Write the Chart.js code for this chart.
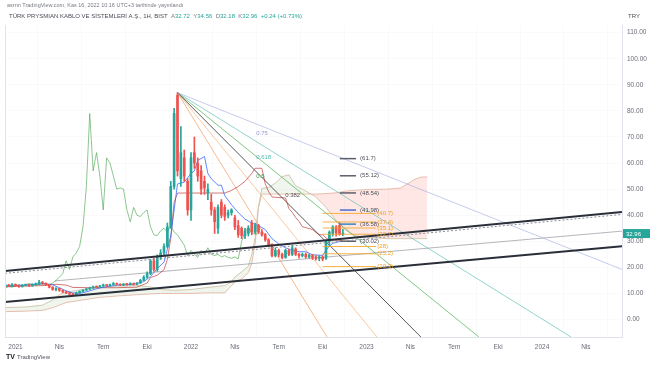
<!DOCTYPE html>
<html>
<head>
<meta charset="utf-8">
<script src="https://cdn.jsdelivr.net/npm/chart.js@4.4.0/dist/chart.umd.min.js"></script>
<style>
  html, body { margin: 0; padding: 0; background: #fff; }
  canvas { display: block; }
</style>
</head>
<body>
<canvas id="chart" width="654" height="366"></canvas>
<script>
// weekly candles, week 0 = first week of Jan 2021
const firstWeek = -3;
const opens  = [12.8,13.2,12.9,13.4,13.0,12.6,13.1,13.3,12.9,13.4,13.6,14.3,13.9,13.3,12.4,11.5,11.9,11.2,10.6,10.2,9.7,9.5,10.3,10.8,11.3,11.7,12.1,12.6,12.4,12.9,13.3,13.0,13.4,13.8,13.5,13.2,13.6,13.4,13.8,13.5,14.0,15.0,16.2,17.6,22.5,19.2,24.0,25.5,28.0,35.5,51.0,86.0,54.0,62.0,53.0,42.0,64.0,60.0,57.0,53.0,48.5,45.0,42.0,35.0,45.0,43.0,40.0,41.0,39.0,36.0,35.0,32.2,33.0,37.0,33.5,36.0,33.5,32.5,30.5,28.5,24.5,26.5,25.0,23.8,26.5,25.0,27.0,25.0,24.5,25.0,24.0,24.5,24.0,23.5,24.0,23.5,30.0,33.0,35.5,36.0,32.72];
const highs  = [13.6,13.5,13.8,13.7,13.2,13.4,13.6,13.5,13.7,14.0,15.0,14.6,14.1,13.5,12.6,12.2,12.0,11.4,10.9,10.4,9.9,10.5,11.0,11.5,11.9,12.4,12.8,12.9,13.1,13.6,13.5,13.6,14.2,14.0,13.7,13.8,13.9,14.1,14.0,14.2,15.4,16.8,18.3,23.0,23.5,24.8,26.8,29.0,37.0,53.0,81.0,87.0,74.0,65.0,54.0,64.0,70.0,62.0,59.0,55.0,52.0,48.0,43.0,44.0,46.0,44.0,42.0,42.5,40.0,38.0,35.5,35.0,36.0,38.0,37.0,36.5,34.5,33.0,31.0,29.0,27.5,27.0,25.5,27.0,27.0,28.5,27.5,25.5,25.5,25.5,25.0,25.0,24.5,24.5,24.5,30.5,34.0,36.0,36.0,37.2,34.56];
const lows   = [12.5,12.6,12.7,12.7,12.3,12.4,12.9,12.6,12.7,13.1,13.4,13.5,13.0,12.1,11.2,11.0,10.8,10.3,9.9,9.4,9.2,9.3,10.1,10.6,11.1,11.5,11.9,12.1,12.2,12.7,12.8,12.8,13.2,13.2,13.0,13.0,13.1,13.2,13.2,13.3,13.8,14.8,15.9,17.2,18.5,18.5,23.0,24.8,27.5,35.0,50.0,55.0,51.0,53.0,40.0,38.0,58.0,53.0,48.0,48.0,46.0,40.0,33.0,33.0,39.0,38.0,39.0,40.0,34.5,31.5,31.0,31.0,32.0,32.5,33.0,33.0,32.0,30.0,28.0,24.0,24.0,24.0,23.2,23.5,24.5,24.5,24.5,23.5,24.0,23.5,23.5,23.0,22.8,22.5,22.5,23.0,28.0,32.0,32.0,32.3,32.18];
const closes = [13.2,12.9,13.4,13.0,12.6,13.1,13.3,12.9,13.4,13.6,14.3,13.9,13.3,12.4,11.5,11.9,11.2,10.6,10.2,9.7,9.5,10.3,10.8,11.3,11.7,12.1,12.6,12.4,12.9,13.3,13.0,13.4,13.8,13.5,13.2,13.6,13.4,13.8,13.5,14.0,15.0,16.2,17.6,22.5,19.2,24.0,25.5,28.0,35.5,51.0,79.0,57.0,64.0,55.0,42.0,62.0,60.0,55.0,50.0,50.5,50.0,42.0,37.5,43.0,40.0,39.5,41.0,42.0,35.5,32.5,32.2,34.0,35.0,33.5,36.0,33.5,32.5,30.5,28.5,24.5,26.5,25.0,23.8,26.5,25.0,27.5,25.0,24.5,25.0,24.0,24.5,23.8,23.5,24.0,23.2,30.0,33.5,35.5,33.2,32.7,32.96];

// ichimoku lines: [week, value]
const tenkan = [[-3.1,13],[3,13.2],[8,13.8],[11,13.3],[13,12.2],[15,11],[17,10.2],[19,10],[21,10.6],[24,11.8],[27,12.6],[31,13.3],[35,13.5],[38,14.5],[40,16.5],[42,19.5],[44,22],[45,27],[46,32],[47,42],[48,52],[50,52.7],[52,56],[53,57],[54,61],[56,62.5],[57,56],[58,54],[60,51.5],[61,51.5],[62,47.5],[64,44],[66,41],[68,38.5],[70,37],[72,36],[74,34.5],[76,31],[78,29],[80,27.5],[82,26.5],[84,26],[86,26],[88,24.8],[91,24.6],[92,26.5],[93,28.2],[94,29.2],[96,29.9],[97,29.9]];
const kijun = [[-3.1,12.6],[8,13],[12,13.5],[15,13.2],[17,12.3],[22,12.2],[30,12.2],[36,12.4],[39,14],[40,16.1],[42,17],[44,19.1],[45,23.1],[46,31.1],[47,45],[48,48.5],[62,48.5],[64,49.5],[66,51],[68,53],[70,56],[71,58],[73,58],[74,52],[75,49],[76,47],[80,46.6],[81,42.6],[82,41.1],[83,39.1],[84,37.6],[85,35.6],[88,34.5],[89,33.4],[90,32.5],[91,32.5],[92,31.3],[93,30.5],[97,30.3]];
const cloudWeeks = [-3.1,3,8,11,13,15,20,25,30,36,40,43,47,52,57,62,64,65,67,69,70,71,72,73,75,77,79,81,83,85,87,89,92,95,98,101,105,110,114,117,118,120,122];
const spanA = [4.6,4.8,5.5,7.5,9.5,10.5,11.5,12.5,12.8,13,12.5,11.5,11.2,11.5,12.3,13,14.5,16.3,18.3,20.5,25,31.5,43.5,50.3,50.6,52.3,54.8,55.5,51.3,50,48.5,47,43,38,34,32,31.5,31,31,31,31,31,31];
const spanB = [3.0,3.2,3.5,4.5,5.5,6.5,7.5,8.5,9,9.5,9.8,10,10,10,10.2,10.2,13,14.5,15.5,18,21.5,29,43,48.1,48.1,48.1,48.1,48.1,48.1,48.1,48.1,48.1,48.3,48.6,49.3,49.6,49.9,50,50.4,52.7,53.6,54.6,54.7];

// drawings: fan from the 2021 top, trend channel, levels
const fanStart = [48, 87];
const fanEnds = [[179.7,19.2],[164.6,-6.7],[137.3,-6.7],[120.1,-6.7],[107.1,-6.7],[92.3,-6.7]];
const fanLabels = ['0.75', '0.618', '0.5', '0.382'];
const channelUpper = [[-3.11,18.6],[179.7,41.2]];
const channelLower = [[-3.11,6.67],[179.7,28.1]];
const channelDashed = [[-3.11,17.7],[179.7,40.3]];
const midLine = [[11.7,14.8],[179.7,33.9]];
const targetLevels = [61.7, 55.12, 48.54, 41.98, 36.58, 30.02];
const fibLevels = [40.7, 37.4, 35.1, 32.7, 28, 25.2, 20.3];
const fibLabels = ['(40.7)', '(37.4)', '(35.1)', '(32.7)', '(28)', '(25.2)', '(20.3)'];

const yTicks = [0, 10, 20, 30, 40, 50, 60, 70, 80, 90, 100, 110];
const xTickWeeks = [0, 13, 26, 39, 52, 65, 78, 91, 104, 117, 130, 143, 156, 169];
const xTickLabels = ['2021', 'Nis', 'Tem', 'Eki', '2022', 'Nis', 'Tem', 'Eki', '2023', 'Nis', 'Tem', 'Eki', '2024', 'Nis'];

const UP = '#26a69a', DOWN = '#ef5350';
const FONT = '"Liberation Sans", Arial, sans-serif';

const weeks = closes.map((c, k) => firstWeek + k);
const candleColors = closes.map((c, k) => c >= opens[k] ? UP : DOWN);
const pts = arr => arr.map(p => ({ x: p[0], y: p[1] }));

function seg(points, color, width, order, dash) {
    return {
        type: 'line', data: pts(points), borderColor: color, borderWidth: width,
        pointRadius: 0, tension: 0, order: order, borderDash: dash || []
    };
}

const datasets = [];
// candles
datasets.push({
    type: 'bar', data: weeks.map((w, k) => ({ x: w, y: [lows[k], highs[k]] })),
    backgroundColor: candleColors, barThickness: 1, grouped: false, order: 2
});
datasets.push({
    type: 'bar', data: weeks.map((w, k) => ({ x: w, y: [opens[k], closes[k]] })),
    backgroundColor: candleColors, barThickness: 2, minBarLength: 1, grouped: false, order: 1
});
// ichimoku
datasets.push(seg(tenkan, 'rgba(41,98,255,0.75)', 1, 3));
datasets.push(seg(kijun, 'rgba(183,28,28,0.6)', 1, 4));
datasets.push({
    type: 'line', data: weeks.map((w, k) => ({ x: w - 25, y: closes[k] })),
    borderColor: 'rgba(67,160,71,0.6)', borderWidth: 1, pointRadius: 0, tension: 0, order: 5
});
const spanBIndex = datasets.length + 1;
datasets.push({
    type: 'line', data: cloudWeeks.map((w, k) => ({ x: w, y: spanA[k] })),
    borderColor: 'rgba(200,190,160,0.8)', borderWidth: 1, pointRadius: 0, tension: 0, order: 9,
    fill: { target: spanBIndex, above: 'rgba(130,170,110,0.12)', below: 'rgba(244,67,54,0.13)' }
});
datasets.push({
    type: 'line', data: cloudWeeks.map((w, k) => ({ x: w, y: spanB[k] })),
    borderColor: 'rgba(225,170,150,0.7)', borderWidth: 1, pointRadius: 0, tension: 0, order: 9
});
// fan
const fanColors = ['rgba(150,160,220,0.55)', 'rgba(77,182,172,0.6)', 'rgba(76,175,80,0.7)', 'rgba(60,60,60,0.85)', 'rgba(245,180,120,0.7)', 'rgba(240,140,70,0.6)'];
fanEnds.forEach((e, k) => datasets.push(seg([fanStart, e], fanColors[k], 1, 6)));
// channel
datasets.push(seg(channelUpper, '#2a2e39', 2, 0));
datasets.push(seg(channelLower, '#2a2e39', 2, 0));
datasets.push(seg(channelDashed, '#8a8d96', 1, 0, [2, 2]));
datasets.push(seg(midLine, 'rgba(150,150,160,0.7)', 1, 7));
// levels
const levelColors = ['#5d606b', '#5d606b', '#5d606b', '#4a6fd0', '#3b82c4', '#5d606b'];
targetLevels.forEach((v, k) => datasets.push(seg([[96.1, v], [100.9, v]], levelColors[k], 1.5, 0)));
fibLevels.forEach(v => datasets.push(seg([[91, v], [106.8, v]], 'rgba(245,166,35,0.85)', 1, 0)));

const overlay = {
    id: 'overlay',
    afterDatasetsDraw(chart) {
        const c = chart.ctx, xs = chart.scales.x, ys = chart.scales.y;
        c.save();
        c.textBaseline = 'middle';
        c.textAlign = 'left';
        c.font = '6px ' + FONT;
        const fanPos = [[71.3, 71.5], [71.3, 62.3], [71.3, 55], [79.9, 47.8]];
        const fanText = ['rgba(130,140,210,0.9)', 'rgba(77,182,172,0.95)', '#43a047', '#555'];
        fanLabels.forEach((t, k) => {
            c.fillStyle = fanText[k];
            c.fillText(t, xs.getPixelForValue(fanPos[k][0]), ys.getPixelForValue(fanPos[k][1]));
        });
        c.fillStyle = '#4a4d57';
        targetLevels.forEach(v => {
            c.fillText('(' + v + ')', xs.getPixelForValue(102.1), ys.getPixelForValue(v));
        });
        c.fillStyle = '#f0a020';
        fibLevels.forEach((v, k) => {
            c.fillText(fibLabels[k], xs.getPixelForValue(107.2), ys.getPixelForValue(v));
        });
        c.restore();
    },
    afterDraw(chart) {
        const c = chart.ctx, ys = chart.scales.y, area = chart.chartArea;
        c.save();
        // left frame line
        c.strokeStyle = '#e0e3eb';
        c.lineWidth = 1;
        c.beginPath();
        c.moveTo(area.left + 0.5, area.top);
        c.lineTo(area.left + 0.5, area.bottom);
        c.stroke();
        // header
        c.textBaseline = 'middle';
        c.textAlign = 'left';
        c.font = '5.5px ' + FONT;
        c.fillStyle = '#787b86';
        c.fillText('asrnn TradingView.com, Kas 16, 2022 10:16 UTC+3 tarihinde yayınlandı', 7, 5);
        c.font = '6px ' + FONT;
        let x = 9;
        const parts = [
            ['TÜRK PRYSMIAN KABLO VE SİSTEMLERİ A.Ş., 1H, BIST  ', '#4a4d57'],
            ['A', '#787b86'], ['32.72  ', UP], ['Y', '#787b86'], ['34.56  ', UP],
            ['D', '#787b86'], ['32.18  ', UP], ['K', '#787b86'], ['32.96  ', UP],
            ['+0.24 (+0.73%)', UP]
        ];
        parts.forEach(p => {
            c.fillStyle = p[1];
            c.fillText(p[0], x, 16);
            x += c.measureText(p[0]).width;
        });
        c.fillStyle = '#4a4d57';
        c.font = '6px ' + FONT;
        c.fillText('TRY', 628, 16);
        // last price tag
        const py = ys.getPixelForValue(closes[closes.length - 1]);
        c.fillStyle = UP;
        c.fillRect(area.right + 1, py - 4.5, 27, 9);
        c.fillStyle = '#fff';
        c.fillText('32.96', area.right + 4, py + 0.5);
        // logo
        c.fillStyle = '#131722';
        c.font = 'bold 7px ' + FONT;
        c.fillText('TV', 6, 357);
        c.font = '6px ' + FONT;
        c.fillStyle = '#50535e';
        c.fillText('TradingView', 17, 357);
        c.restore();
    }
};

new Chart(document.getElementById('chart'), {
    data: { datasets: datasets },
    options: {
        responsive: false,
        animation: false,
        layout: { padding: { left: 5, top: 25, right: 0, bottom: 12 } },
        plugins: { legend: { display: false }, tooltip: { enabled: false } },
        scales: {
            x: {
                type: 'linear', min: -3.11, max: 179.7, offset: false,
                grid: { color: 'rgba(42,46,57,0.025)', drawTicks: false },
                border: { color: '#e0e3eb' },
                ticks: {
                    color: '#6a6d78', font: { size: 6.5, family: FONT }, padding: 6,
                    maxRotation: 0, autoSkip: false,
                    callback: (v, i) => xTickLabels[i]
                },
                afterBuildTicks: s => { s.ticks = xTickWeeks.map(v => ({ value: v })); },
                afterFit: s => { s.height = 17; }
            },
            y: {
                type: 'linear', position: 'right', min: -6.71, max: 112.95,
                grid: { color: 'rgba(42,46,57,0.025)', drawTicks: false },
                border: { color: '#e0e3eb' },
                ticks: {
                    color: '#6a6d78', font: { size: 6.5, family: FONT }, padding: 5,
                    callback: v => v.toFixed(2)
                },
                afterBuildTicks: s => { s.ticks = yTicks.map(v => ({ value: v })); },
                afterFit: s => { s.width = 32; }
            }
        }
    },
    plugins: [overlay]
});
</script>
</body>
</html>
